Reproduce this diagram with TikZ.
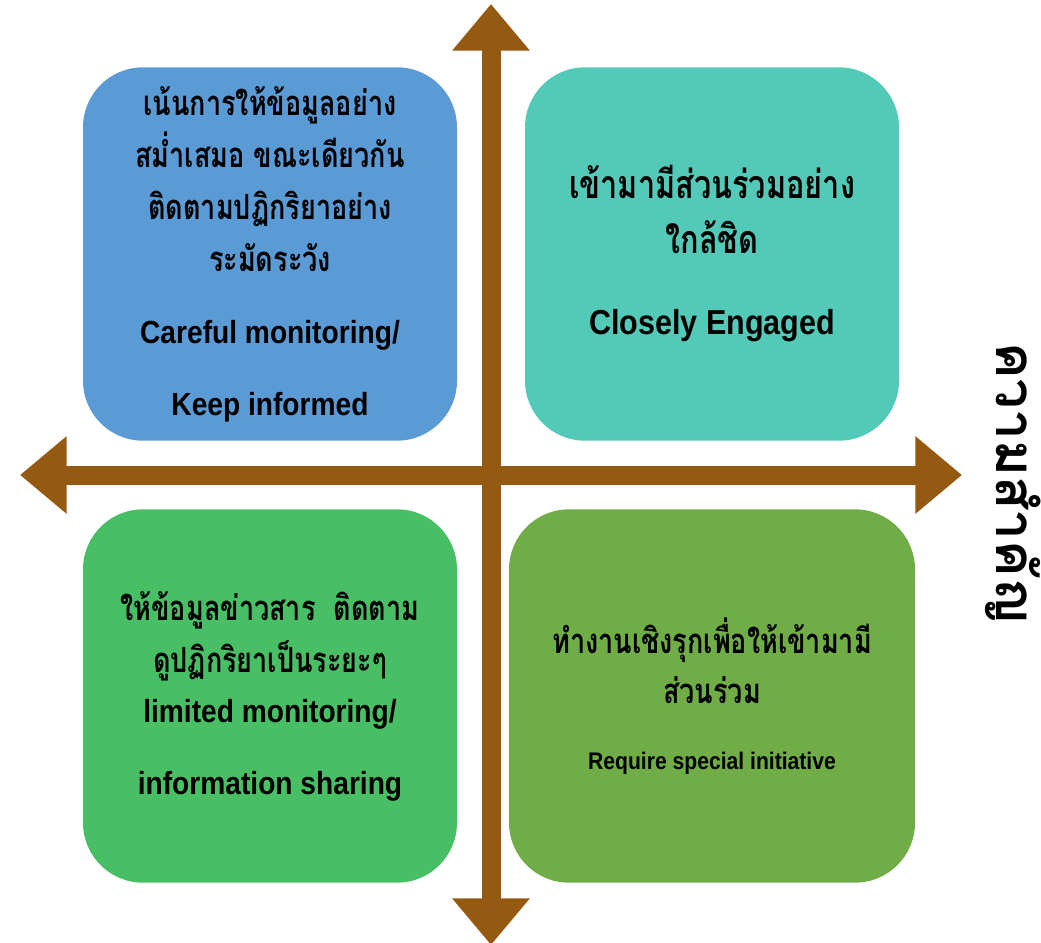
\documentclass[tikz,border=0pt]{standalone}
\usepackage{fontspec}
\usetikzlibrary{arrows.meta,positioning}

\newfontfamily\thaifont[Script=Thai,FakeStretch=0.78]{Loma}
\newfontfamily\thaiwide[Script=Thai]{Loma}
\newfontfamily\engfont[FakeStretch=0.88]{Liberation Sans}

\definecolor{axisbrown}{HTML}{945A12}
\definecolor{boxblue}{HTML}{5B9BD5}
\definecolor{boxteal}{HTML}{53C9B7}
\definecolor{boxgreen}{HTML}{48BF64}
\definecolor{boxolive}{HTML}{70AD47}

\tikzset{
    quadbox/.style={rounded corners=45pt, inner sep=0pt, align=center, text=black,
        minimum width=280.5pt, minimum height=280pt},
    thaitext/.style={font=\thaifont\bfseries\fontsize{26}{39}\selectfont},
    axisline/.style={draw=axisbrown, line width=14.25pt,
        {Triangle[length=35pt,width=56pt]}-{Triangle[length=35pt,width=56pt]}},
}
\newcommand{\engline}[2]{{\engfont\bfseries\fontsize{#1}{39}\selectfont #2}}

\begin{document}
\begin{tikzpicture}[x=0.75pt, y=-0.75pt]
    \useasboundingbox (0,0) rectangle (1041,942);

    % quadrants
    \node[quadbox, fill=boxblue, thaitext] (keepinformed) at (270,254)
        {เน้นการให้ข้อมูลอย่าง\\ สม่ำเสมอ ขณะเดียวกัน\\ ติดตามปฏิกริยาอย่าง\\ ระมัดระวัง\\[15pt]
         \engline{24}{Careful monitoring/}\\[15pt] \engline{24}{Keep informed}};

    \node[quadbox, fill=boxteal, font=\thaifont\bfseries\fontsize{29.5}{41}\selectfont] (engaged) at (712,254)
        {เข้ามามีส่วนร่วมอย่าง\\ ใกล้ชิด\\[20pt] \engline{26}{Closely Engaged}};

    \node[quadbox, fill=boxgreen, thaitext] (sharing) at (270,696)
        {ให้ข้อมูลข่าวสาร\ \ ติดตาม\\ ดูปฏิกริยาเป็นระยะๆ\\[-1.5pt]
         \engline{24}{limited monitoring/}\\[15pt] \engline{24}{information sharing}};

    \node[quadbox, fill=boxolive, thaitext, minimum width=304.5pt] (initiative) at (712,696)
        {ทำงานเชิงรุกเพื่อให้เข้ามามี\\[-1.5pt] ส่วนร่วม\\[11pt] \engline{18}{Require special initiative}};

    % axes
    \coordinate (axistop) at (491,4);
    \coordinate (axisbottom) at (491,945);
    \coordinate (axisleft) at (20,475);
    \coordinate (axisright) at (962,475);
    \draw[axisline] (axisbottom) -- (axistop);
    \draw[axisline] (axisleft) -- (axisright);

    \node[rotate=-90, font=\thaiwide\bfseries\fontsize{41}{48}\selectfont] (importance) at (1013,483) {ความสำคัญ};
\end{tikzpicture}
\end{document}
